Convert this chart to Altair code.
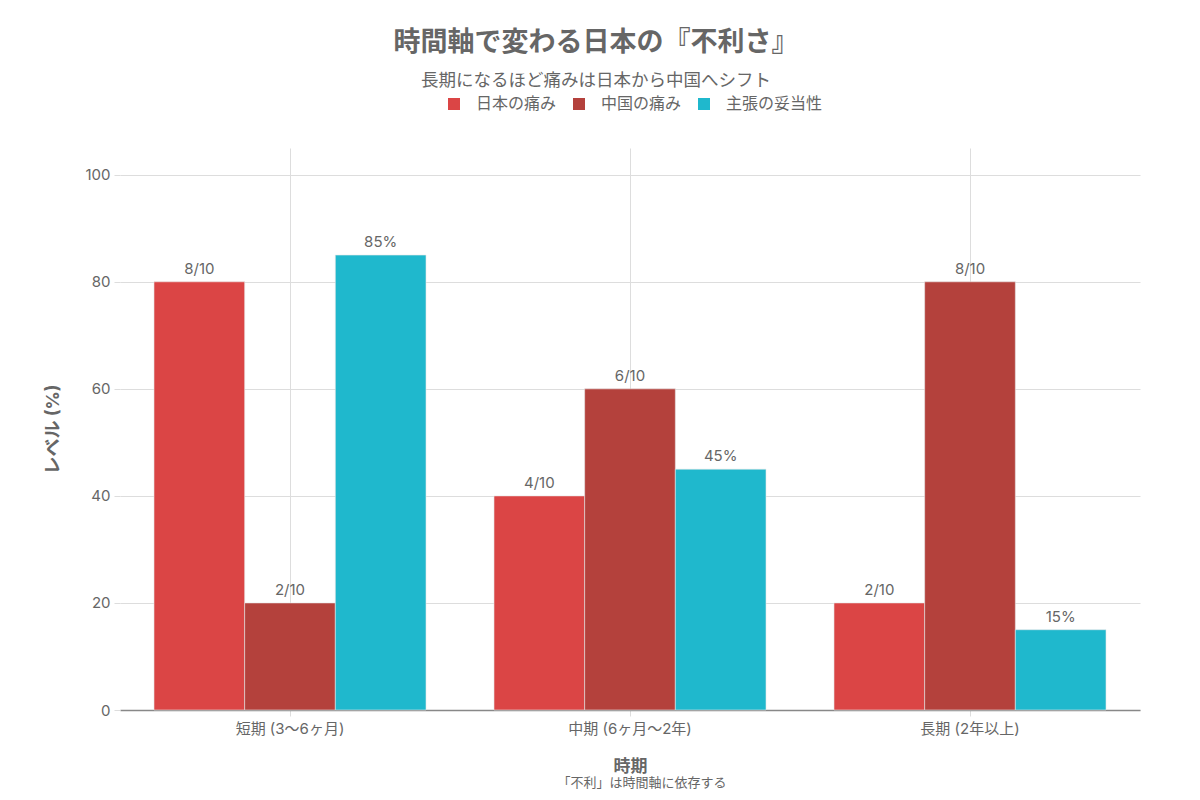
import altair as alt
import pandas as pd

periods = ["短期 (3〜6ヶ月)", "中期 (6ヶ月〜2年)", "長期 (2年以上)"]
series_names = ["日本の痛み", "中国の痛み", "主張の妥当性"]
japan_pain = [80, 40, 20]
china_pain = [20, 60, 80]
validity = [85, 45, 15]
japan_labels = ["8/10", "4/10", "2/10"]
china_labels = ["2/10", "6/10", "8/10"]
validity_labels = ["85%", "45%", "15%"]
colors = ["#DB4545", "#B4413C", "#1FB8CD"]

rows = []
for i, p in enumerate(periods):
    rows.append({"period": p, "series": series_names[0], "value": japan_pain[i], "label": japan_labels[i]})
    rows.append({"period": p, "series": series_names[1], "value": china_pain[i], "label": china_labels[i]})
    rows.append({"period": p, "series": series_names[2], "value": validity[i], "label": validity_labels[i]})
df = pd.DataFrame(rows)

FONT = "Inter, 'Noto Sans CJK JP', sans-serif"
GRAY = "#666666"
W, H = 1020, 562

x_enc = alt.X(
    "period:N",
    sort=periods,
    scale=alt.Scale(paddingInner=0.2, paddingOuter=0.1),
    axis=alt.Axis(
        title="時期",
        grid=True,
        gridColor="#dddddd",
        domainColor="#888888",
        domainWidth=1.5,
        tickColor="#dddddd",
        tickSize=6,
        labelAngle=0,
        labelFontSize=15,
        labelColor=GRAY,
        labelPadding=5,
        titleFontSize=17,
        titleFontWeight="bold",
        titleColor=GRAY,
        titlePadding=22,
    ),
)
xoff = alt.XOffset("series:N", sort=series_names, scale=alt.Scale(paddingInner=0, paddingOuter=0))
y_enc = alt.Y(
    "value:Q",
    scale=alt.Scale(domain=[0, 105], nice=False),
    axis=alt.Axis(
        title="レベル (%)",
        values=[0, 20, 40, 60, 80, 100],
        grid=True,
        gridColor="#dddddd",
        domain=False,
        tickColor="#dddddd",
        tickSize=6,
        labelFontSize=15,
        labelColor=GRAY,
        labelPadding=4,
        titleFontSize=18,
        titleFontWeight="bold",
        titleColor=GRAY,
        titlePadding=22,
    ),
)

bars = alt.Chart(df).mark_bar(stroke="#e6e6e6", strokeWidth=0.6).encode(
    x=x_enc,
    xOffset=xoff,
    y=y_enc,
    color=alt.Color(
        "series:N",
        sort=series_names,
        scale=alt.Scale(domain=series_names, range=colors),
        legend=alt.Legend(
            title=None,
            orient="none",
            direction="horizontal",
            legendX=326,
            legendY=-52,
            symbolType="square",
            symbolSize=144,
            symbolStrokeWidth=0,
            labelFontSize=16,
            labelColor=GRAY,
            labelOffset=14,
            columnPadding=14,
        ),
    ),
)

texts = alt.Chart(df).mark_text(dy=-5, fontSize=15, color=GRAY, baseline="bottom", font=FONT).encode(
    x=alt.X("period:N", sort=periods),
    xOffset=alt.XOffset("series:N", sort=series_names),
    y=alt.Y("value:Q"),
    text="label:N",
)

foot = alt.Chart(pd.DataFrame({"t": ["「不利」は時間軸に依存する"]})).mark_text(
    fontSize=13, color=GRAY, font=FONT, baseline="middle"
).encode(x=alt.value(W / 2 + 12), y=alt.value(H + 73), text="t:N")

chart = alt.layer(bars, texts, foot).properties(
    width=W,
    height=H,
    autosize=alt.AutoSizeParams(type="none"),
    padding={"left": 112, "top": 140, "right": 52, "bottom": 82},
    title=alt.TitleParams(
        text="時間軸で変わる日本の『不利さ』",
        subtitle="長期になるほど痛みは日本から中国へシフト",
        fontSize=27,
        fontWeight="bold",
        color=GRAY,
        subtitleFontSize=17.5,
        subtitleColor=GRAY,
        subtitlePadding=15,
        anchor="middle",
        dx=-34,
        offset=6,
        font=FONT,
        subtitleFont=FONT,
    ),
).configure(font=FONT).configure_view(stroke=None).configure_axis(
    labelFont=FONT, titleFont=FONT
).configure_legend(labelFont=FONT)

chart.save("out.html", embed_options={"renderer": "svg", "actions": False})
